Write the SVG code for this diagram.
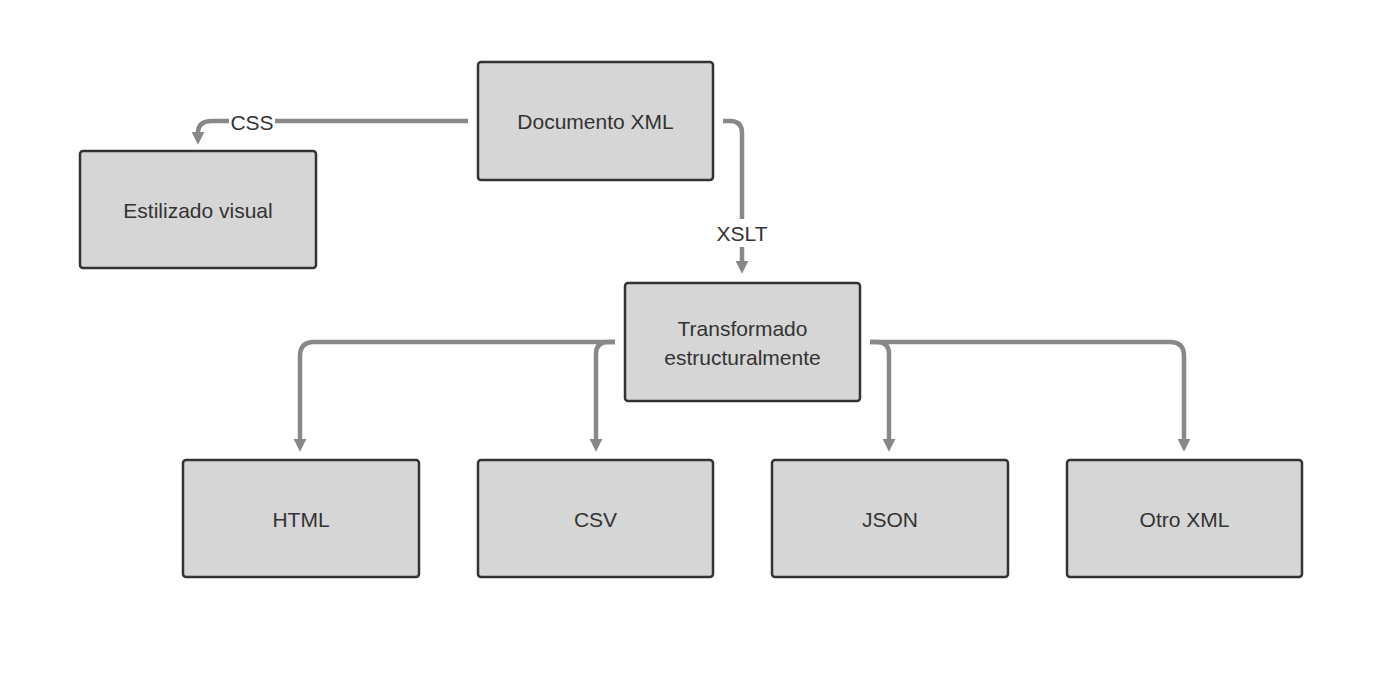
<svg xmlns="http://www.w3.org/2000/svg" width="1384" height="682" viewBox="0 0 1384 682">
<style>
.box{fill:#d6d6d6;stroke:#333;stroke-width:2.5}
.t{font-family:"Liberation Sans","DejaVu Sans",sans-serif;font-size:21px;fill:#333;text-anchor:middle;dominant-baseline:central}
.c{fill:none;stroke:#888;stroke-width:4.5}
.lbl{font-family:"Liberation Sans","DejaVu Sans",sans-serif;font-size:21px;fill:#333;text-anchor:middle;dominant-baseline:central}
</style>
<defs>
<marker id="ah" viewBox="0 0 10 10" refX="1" refY="5" markerWidth="13" markerHeight="14" markerUnits="userSpaceOnUse" orient="auto">
<path d="M0,0 L10,5 L0,10 z" fill="#888"/>
</marker>
</defs>
<rect width="1384" height="682" fill="#fff"/>
<g id="connectors">
<path class="c" d="M468,121 H212 Q198,121 198,133" marker-end="url(#ah)"/>
<rect x="229" y="109" width="46" height="24" fill="#fff"/>
<text class="lbl" x="252" y="122">CSS</text>
<path class="c" d="M723,121 H730 Q742,121 742,133 V262" marker-end="url(#ah)"/>
<rect x="714" y="219" width="56" height="28" fill="#fff"/>
<text class="lbl" x="742" y="233">XSLT</text>
<path class="c" d="M615,342 H314 Q300,342 300,356 V440" marker-end="url(#ah)"/>
<path class="c" d="M615,342 H608 Q596,342 596,354 V440" marker-end="url(#ah)"/>
<path class="c" d="M870,342 H877 Q889,342 889,354 V440" marker-end="url(#ah)"/>
<path class="c" d="M870,342 H1170 Q1184,342 1184,356 V440" marker-end="url(#ah)"/>
</g>
<g id="doc"><rect class="box" x="478" y="62" width="235" height="118" rx="3"/><text class="t" x="595.5" y="121">Documento XML</text></g>
<g id="estilizado"><rect class="box" x="80" y="151" width="236" height="117" rx="3"/><text class="t" x="198" y="210">Estilizado visual</text></g>
<g id="transformado"><rect class="box" x="625" y="283" width="235" height="118" rx="3"/><text class="t" x="742.5" y="328">Transformado</text><text class="t" x="742.5" y="357">estructuralmente</text></g>
<g id="html"><rect class="box" x="183" y="460" width="236" height="117" rx="3"/><text class="t" x="301" y="519">HTML</text></g>
<g id="csv"><rect class="box" x="478" y="460" width="235" height="117" rx="3"/><text class="t" x="595.5" y="519">CSV</text></g>
<g id="json"><rect class="box" x="772" y="460" width="236" height="117" rx="3"/><text class="t" x="890" y="519">JSON</text></g>
<g id="otro"><rect class="box" x="1067" y="460" width="235" height="117" rx="3"/><text class="t" x="1184.5" y="519">Otro XML</text></g>
</svg>
